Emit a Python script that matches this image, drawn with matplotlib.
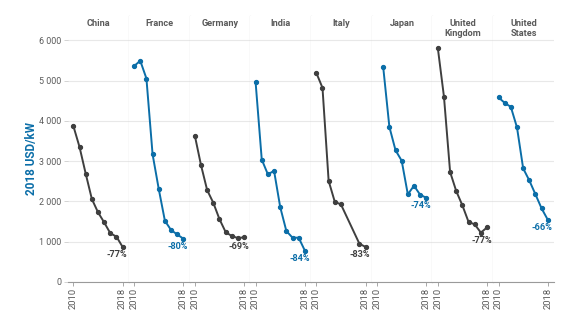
import numpy as np
import matplotlib
matplotlib.use("Agg")
import matplotlib.pyplot as plt
from matplotlib.ticker import FuncFormatter

# --- data (2018 USD/kW) ---
years = [2010, 2011, 2012, 2013, 2014, 2015, 2016, 2017, 2018]
countries = ["China", "France", "Germany", "India", "Italy", "Japan",
             "United\nKingdom", "United\nStates"]
nan = np.nan
china = [3870, 3350, 2690, 2060, 1730, 1480, 1210, 1125, 870]
france = [5360, 5490, 5050, 3170, 2310, 1520, 1290, 1180, 1075]
germany = [3630, 2900, 2280, 1965, 1560, 1240, 1140, 1090, 1110]
india = [4960, 3040, 2670, 2760, 1860, 1265, 1100, 1100, 780]
italy = [5190, 4820, 2510, 1990, 1925, nan, nan, 950, 870]
japan = [nan, 5330, 3850, 3270, 3010, 2175, 2390, 2165, 2090]
uk = [5810, 4600, 2730, 2255, 1900, 1490, 1430, 1225, 1355]
us = [4580, 4445, 4345, 3835, 2820, 2520, 2175, 1825, 1545]
series = [china, france, germany, india, italy, japan, uk, us]
changes = ["-77%", "-80%", "-69%", "-84%", "-83%", "-74%", "-77%", "-66%"]

GRAY = "#3f3f3f"
BLUE = "#0b6ea8"
TEXT = "#5a5a5a"
colors = [GRAY, BLUE] * 4

plt.rcParams["font.family"] = ["Roboto", "DejaVu Sans"]

fig, axes = plt.subplots(1, 8, figsize=(5.77, 3.21), dpi=100, sharey=True)
fig.subplots_adjust(left=0.1179, right=0.960, bottom=0.1215, top=0.950, wspace=0)

for i, (ax, name, vals, lab, col) in enumerate(zip(axes, countries, series, changes, colors)):
    x = np.array(years, dtype=float)
    y = np.array(vals, dtype=float)
    ok = ~np.isnan(y)
    ax.plot(x[ok], y[ok], color=col, lw=1.4, marker="o", ms=2.8, zorder=3)

    # percentage change under the end of the line
    y_anchor = min(y[ok][-2:])
    ax.annotate(lab, xy=(x[ok][-1], y_anchor), xytext=(3.5, -2.5),
                textcoords="offset points", ha="right", va="top",
                fontsize=6.6, fontweight="bold", color=col, zorder=4)

    ax.annotate(name, xy=(0.5, 1), xycoords="axes fraction", xytext=(0, -2),
                textcoords="offset points", ha="center", va="top",
                fontsize=6.6, fontweight="bold", color=TEXT, linespacing=1.15)

    ax.set_xlim(2009.13, 2019.0)
    ax.set_ylim(0, 6600)
    ax.set_xticks([2010, 2018])
    ax.set_xticklabels(["2010", "2018"], rotation=90, fontsize=6.8, color=TEXT)
    ax.set_yticks([0, 1000, 2000, 3000, 4000, 5000, 6000])
    ax.grid(axis="y", color="#e8e8e8", lw=0.8, zorder=0)
    ax.set_axisbelow(True)

    for s in ["top", "left"]:
        ax.spines[s].set_visible(False)
    ax.spines["bottom"].set_color("#9a9a9a")
    ax.spines["bottom"].set_linewidth(0.8)
    if i < 7:
        ax.spines["right"].set_color("#d6d6d6")
        ax.spines["right"].set_linewidth(0.9)
    else:
        ax.spines["right"].set_visible(False)
    ax.tick_params(axis="x", length=3, width=0.6, color="#9a9a9a", pad=1.5)
    ax.tick_params(axis="y", length=3 if i == 0 else 0, width=0.6, color="#cccccc",
                   labelsize=6.4, labelcolor=TEXT, pad=2)

axes[0].yaxis.set_major_formatter(FuncFormatter(lambda v, p: f"{int(v):,}".replace(",", " ")))

fig.text(32 / 577, 1 - 158 / 321, "2018 USD/kW", rotation=90, ha="center", va="center",
         fontsize=8.5, fontweight="bold", color=BLUE)

fig.savefig("out.png", dpi=100, facecolor="white")
